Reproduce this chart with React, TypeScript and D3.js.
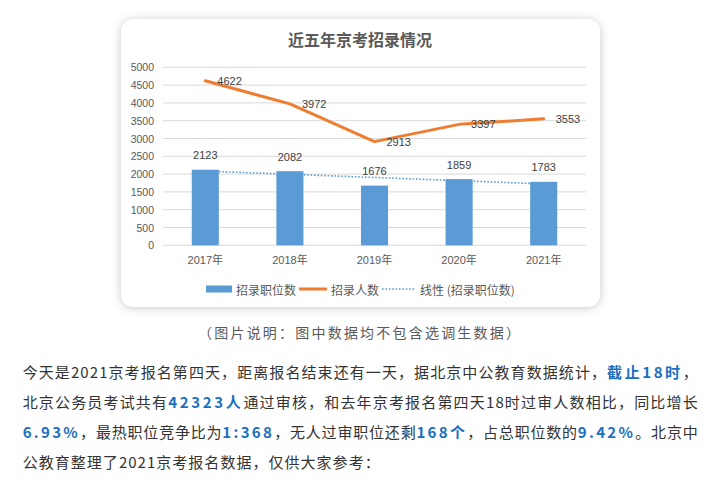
import React from "react";
import * as d3 from "d3";

const years = ["2017年", "2018年", "2019年", "2020年", "2021年"];
const positions = [2123, 2082, 1676, 1859, 1783];
const applicants = [4622, 3972, 2913, 3397, 3553];
const yTicks = [0, 500, 1000, 1500, 2000, 2500, 3000, 3500, 4000, 4500, 5000];
const chartTitle = "近五年京考招录情况";
const legendLabels = ["招录职位数", "招录人数", "线性 (招录职位数)"];
const caption = "（图片说明：图中数据均不包含选调生数据）";

type Seg = [string, boolean];
const paragraph: Seg[][] = [
  [["今天是2021京考报名第四天，距离报名结束还有一天，据北京中公教育数据统计，", false], ["截止18时", true], ["，", false]],
  [["北京公务员考试共有", false], ["42323人", true], ["通过审核，和去年京考报名第四天18时过审人数相比，同比增长", false]],
  [["6.93%", true], ["，最热职位竞争比为", false], ["1:368", true], ["，无人过审职位还剩", false], ["168个", true], ["，占总职位数的", false], ["9.42%", true], ["。北京中", false]],
  [["公教育整理了2021京考报名数据，仅供大家参考：", false]],
];

const W = 708;
const H = 482;
const BLUE = "#5B9BD5";
const ORANGE = "#ED7D31";
const CJK = "'Noto Sans CJK SC', 'Noto Sans', sans-serif";
const NUM = "'Liberation Sans', 'Noto Sans CJK SC', sans-serif";

export default function App() {
  const plotL = 163;
  const plotR = 586;
  const yTop = 67.3;
  const yBot = 245.3;
  const x = d3.scaleBand<string>().domain(years).range([plotL, plotR]).padding(0);
  const y = d3.scaleLinear().domain([0, 5000]).range([yBot, yTop]);
  const barW = x.bandwidth() * 0.32;
  const cx = (i: number) => (x(years[i]) as number) + x.bandwidth() / 2;

  // linear trendline (least squares) over the bar series
  const idx = positions.map((_, i) => i + 1);
  const mx = d3.mean(idx) as number;
  const my = d3.mean(positions) as number;
  const slope =
    d3.sum(idx.map((xi, i) => (xi - mx) * (positions[i] - my))) /
    d3.sum(idx.map((xi) => (xi - mx) * (xi - mx)));
  const intercept = my - slope * mx;
  const trendPts: [number, number][] = [
    [cx(0), y(intercept + slope * 1)],
    [cx(years.length - 1), y(intercept + slope * years.length)],
  ];

  const line = d3
    .line<number>()
    .x((_, i) => cx(i))
    .y((d) => y(d));

  const lineYs = [371, 401, 431, 461];
  const lineLengths = [675, 675, 675, 357];

  return (
    <div style={{ position: "absolute", left: 0, top: 0, width: W, height: H }}>
      <svg width={W} height={H} viewBox={`0 0 ${W} ${H}`} style={{ display: "block", background: "#fff" }}>
        <defs>
          <filter id="shadow" x="-10%" y="-10%" width="120%" height="125%">
            <feDropShadow dx="0" dy="1" stdDeviation="5" floodColor="#000" floodOpacity="0.22" />
          </filter>
        </defs>
        <rect x={121} y={19} width={479} height={288} rx={13} fill="#fff" filter="url(#shadow)" />

        <text x={360} y={38.5} textAnchor="middle" dominantBaseline="central" fontFamily={CJK} fontWeight="bold" fontSize={16} fill="#595959">
          {chartTitle}
        </text>

        {yTicks.map((t) => (
          <g key={t}>
            <line x1={plotL} x2={plotR} y1={y(t)} y2={y(t)} stroke="#D9D9D9" strokeWidth={1} />
            <text x={154} y={y(t)} textAnchor="end" dominantBaseline="central" fontFamily={NUM} fontSize={10.5} fill="#595959">
              {t}
            </text>
          </g>
        ))}

        {positions.map((v, i) => (
          <rect key={i} x={cx(i) - barW / 2} y={y(v)} width={barW} height={yBot - y(v)} fill={BLUE} />
        ))}

        <line
          x1={trendPts[0][0]}
          y1={trendPts[0][1]}
          x2={trendPts[1][0]}
          y2={trendPts[1][1]}
          stroke={BLUE}
          strokeWidth={1.6}
          strokeDasharray="1.6 1.8"
        />

        <path d={line(applicants) || ""} fill="none" stroke={ORANGE} strokeWidth={3} strokeLinejoin="round" strokeLinecap="round" />

        {positions.map((v, i) => (
          <text key={i} x={cx(i)} y={y(v) - 14.5} textAnchor="middle" dominantBaseline="central" fontFamily={NUM} fontSize={11} fill="#404040">
            {v}
          </text>
        ))}
        {applicants.map((v, i) => (
          <text key={i} x={cx(i) + 12} y={y(v)} textAnchor="start" dominantBaseline="central" fontFamily={NUM} fontSize={11} fill="#404040">
            {v}
          </text>
        ))}

        {years.map((yr, i) => (
          <text key={yr} x={cx(i)} y={260} textAnchor="middle" dominantBaseline="central" fontFamily={NUM} fontSize={11} fill="#595959">
            {yr}
          </text>
        ))}

        {/* legend */}
        <rect x={206} y={285.5} width={26} height={7} fill={BLUE} />
        <text x={236} y={289} dominantBaseline="central" fontFamily={CJK} fontSize={12} fill="#595959">
          {legendLabels[0]}
        </text>
        <line x1={299} x2={327} y1={289} y2={289} stroke={ORANGE} strokeWidth={3} />
        <text x={331} y={289} dominantBaseline="central" fontFamily={CJK} fontSize={12} fill="#595959">
          {legendLabels[1]}
        </text>
        <line x1={382} x2={415} y1={289} y2={289} stroke={BLUE} strokeWidth={1.6} strokeDasharray="1.6 1.8" />
        <text x={420} y={289} dominantBaseline="central" fontFamily={CJK} fontSize={12} fill="#595959">
          {legendLabels[2]}
        </text>

        <text x={198} y={332} dominantBaseline="central" fontFamily={CJK} fontSize={14} fill="#595959" textLength={322} lengthAdjust="spacing">
          {caption}
        </text>

        {paragraph.map((segs, li) => (
          <text
            key={li}
            x={22.7}
            y={lineYs[li]}
            dominantBaseline="central"
            fontFamily={CJK}
            fontSize={15}
            fill="#333"
            textLength={lineLengths[li]}
            lengthAdjust="spacing"
          >
            {segs.map(([t, b], si) => (
              <tspan key={si} fontWeight={b ? "bold" : "normal"} fill={b ? "#1a6fc0" : "#333"} letterSpacing={b ? 1.5 : undefined}>
                {t}
              </tspan>
            ))}
          </text>
        ))}
      </svg>
    </div>
  );
}
